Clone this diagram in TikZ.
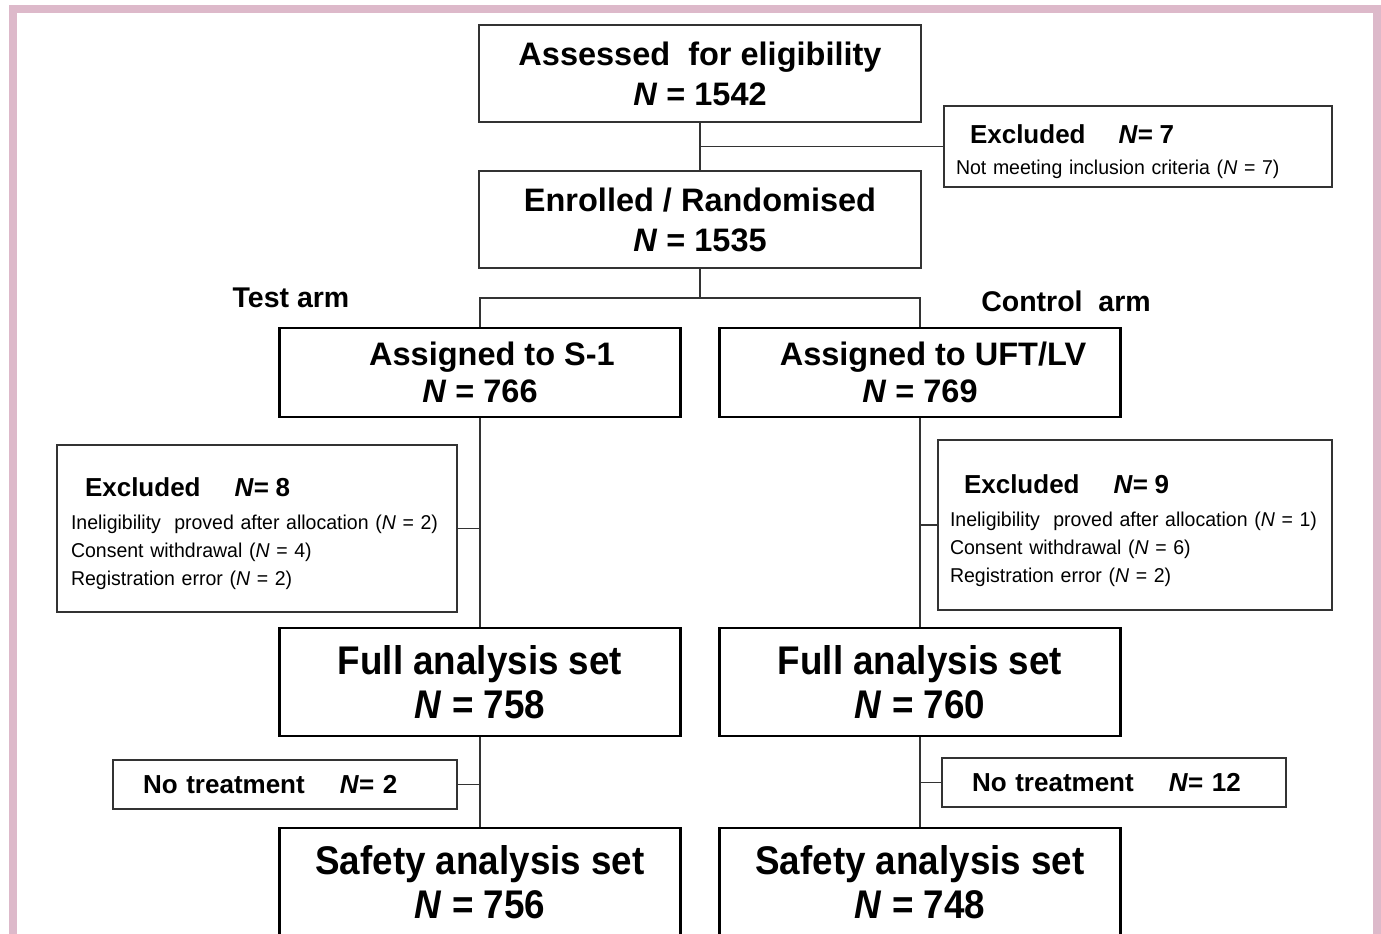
\documentclass[tikz,border=0pt]{standalone}
\usepackage{fontspec}
\setmainfont{Liberation Sans}
\newfontfamily\narrowfont[FakeStretch=0.92]{Liberation Sans}
\newfontfamily\smallnarrow[FakeStretch=0.975]{Liberation Sans}
\definecolor{pinkb}{HTML}{DDB9CA}
\definecolor{lgray}{HTML}{333333}
\begin{document}
\begin{tikzpicture}[x=1pt,y=-1pt,
  box/.style={draw, rectangle, inner sep=0pt, align=center},
  topbox/.style={box, draw=lgray, line width=1.5pt, minimum width=442pt, minimum height=97pt, font=\fontsize{32.5}{40}\selectfont\bfseries},
  armbox/.style={box, draw=black, line width=2.2pt, minimum width=401pt, minimum height=89pt, font=\fontsize{32.5}{37}\selectfont\bfseries},
  setbox/.style={box, draw=black, line width=2.6pt, minimum width=401pt, minimum height=108pt, font=\narrowfont\fontsize{40}{44}\selectfont\bfseries},
  exbox/.style={draw=lgray, line width=1.5pt, rectangle, inner ysep=0pt, align=left, font=\smallnarrow\fontsize{20}{28}\selectfont},
  ntbox/.style={draw=lgray, line width=1.5pt, rectangle, inner ysep=0pt, inner xsep=30pt, text width=284pt, minimum height=49pt, align=left, font=\fontsize{26}{30}\selectfont\bfseries},
  armlabel/.style={font=\fontsize{28.5}{34}\selectfont\bfseries, inner sep=0pt},
  link/.style={draw=black!80, line width=1.8pt}
]
\useasboundingbox (0,0) rectangle (1381,934);
\clip (0,0) rectangle (1381,934);
\fill[white] (0,0) rectangle (1381,934);
\draw[pinkb, line width=8pt] (13,960) -- (13,9) -- (1377,9) -- (1377,960);

% top
\node[topbox] (A) at (700,73.5) {Assessed\ \ for eligibility\\\textit{N} = 1542};
\node[topbox] (E) at (700,219.5) {Enrolled / Randomised\\\textit{N} = 1535};
\node[exbox, inner xsep=12pt, text width=364pt, minimum height=81pt] (X0) at (1138,146.5)
  {\hspace*{14pt}{\normalfont\fontsize{26}{28}\selectfont\bfseries\rule{0pt}{30pt}Excluded\hspace{33pt}\textit{N}= 7}\\[3pt]
   \mbox{Not meeting inclusion criteria (\textit{N} = 7)}};

% arms
\node[armlabel] (TL) at (291,298) {Test arm};
\node[armlabel] (TR) at (1066,301) {Control\ \ arm};
\node[armbox] (S1) at (480,372.5) {\hspace*{24pt}Assigned to S-1\\\textit{N} = 766};
\node[armbox] (UF) at (920,372.5) {\hspace*{26pt}Assigned to UFT/LV\\\textit{N} = 769};

% exclusions after allocation
\node[exbox, inner xsep=14pt, text width=372pt, minimum height=167pt] (XL) at (257,528.5)
  {\hspace*{14pt}{\normalfont\fontsize{26}{28}\selectfont\bfseries\rule{0pt}{30pt}Excluded\hspace{34pt}\textit{N}= 8}\\[5pt]
   \mbox{Ineligibility\ \ proved after allocation (\textit{N} = 2)}\\
   Consent withdrawal (\textit{N} = 4)\\
   Registration error (\textit{N} = 2)};
\node[exbox, inner xsep=12pt, text width=370pt, minimum height=170pt] (XR) at (1135,525)
  {\hspace*{14pt}{\normalfont\fontsize{26}{28}\selectfont\bfseries\rule{0pt}{30pt}Excluded\hspace{34pt}\textit{N}= 9}\\[5pt]
   \mbox{Ineligibility\ \ proved after allocation (\textit{N} = 1)}\\
   Consent withdrawal (\textit{N} = 6)\\
   Registration error (\textit{N} = 2)};

% full analysis
\node[setbox] (FL) at (480,682) {Full analysis set\\\textit{N} = 758};
\node[setbox] (FR) at (920,682) {Full analysis set\\\textit{N} = 760};

% no treatment
\node[ntbox] (NL) at (285,784.5) {No treatment\hspace{35pt}\textit{N}= 2};
\node[ntbox] (NR) at (1114,782.5) {No treatment\hspace{35pt}\textit{N}= 12};

% safety
\node[setbox] (SL) at (480,882) {Safety analysis set\\\textit{N} = 756};
\node[setbox] (SR) at (920,882) {Safety analysis set\\\textit{N} = 748};

% connectors
\coordinate (split) at (700,298);
\draw[link] (A.south) -- (E.north);
\draw[link] (A.south |- X0.west) -- (X0.west);
\draw[link] (E.south) -- (split);
\draw[link] (S1.north) |- (split) -| (UF.north);
\draw[link] (S1.south) -- (FL.north);
\draw[link] (UF.south) -- (FR.north);
\draw[link] (XL.east) -- (XL.east -| S1.south);
\draw[link] (XR.west) -- (XR.west -| UF.south);
\draw[link] (FL.south) -- (SL.north);
\draw[link] (FR.south) -- (SR.north);
\draw[link] (NL.east) -- (NL.east -| FL.south);
\draw[link] (NR.west) -- (NR.west -| FR.south);
\end{tikzpicture}
\end{document}
